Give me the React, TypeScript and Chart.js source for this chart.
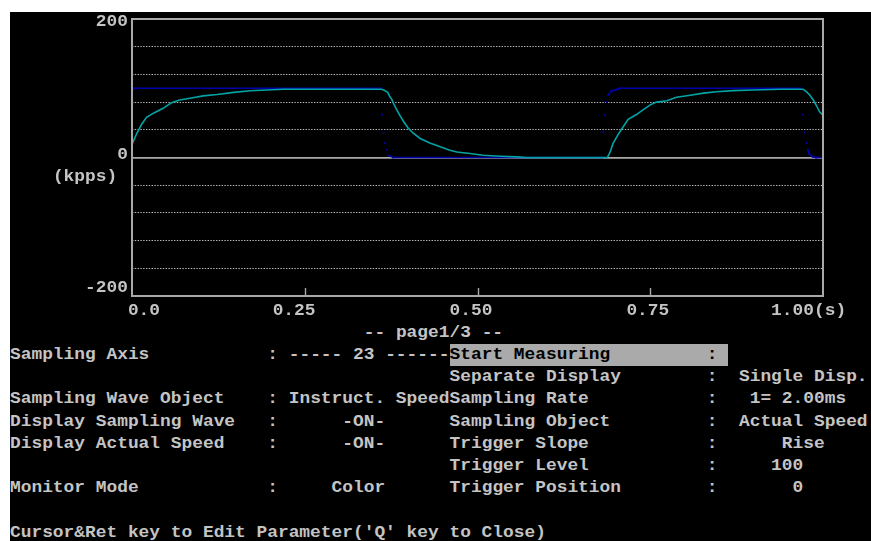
import React, { useEffect, useRef } from "react";
import { Chart, registerables } from "chart.js";

Chart.register(...registerables);

// ---- data ----
const instructTime = [0, 0.004, 0.36, 0.362, 0.364, 0.366, 0.369, 0.372, 0.378, 0.68, 0.682, 0.684, 0.687, 0.689, 0.694, 0.701, 0.706, 0.967, 0.971, 0.973, 0.976, 0.978, 0.98, 0.985, 0.99, 1.0];
const instructSpeed = [96, 100, 100, 62, 36, 21, 11, 3, 0, 0, 37, 61, 80, 90, 96, 98, 100, 100, 62, 36, 21, 11, 5, 1, 0, 0];

const actualTime = [0, 0.007, 0.014, 0.021, 0.031, 0.045, 0.057, 0.069, 0.086, 0.103, 0.123, 0.147, 0.171, 0.195, 0.219, 0.26, 0.3, 0.33, 0.361, 0.365, 0.37, 0.373, 0.376, 0.378, 0.383, 0.388, 0.393, 0.4, 0.407, 0.417, 0.431, 0.446, 0.46, 0.47, 0.489, 0.508, 0.533, 0.557, 0.571, 0.688, 0.692, 0.696, 0.704, 0.708, 0.718, 0.73, 0.74, 0.75, 0.759, 0.774, 0.788, 0.808, 0.827, 0.846, 0.87, 0.899, 0.938, 0.971, 0.976, 0.981, 0.986, 0.991, 0.995, 1.0];
const actualSpeed = [19, 35, 48, 58, 64, 71, 79, 83, 86, 89, 91, 94, 96.5, 97.5, 98.5, 98.5, 98.5, 98.5, 98.5, 97, 94, 88, 84, 79, 69, 60, 52, 42, 35, 27.5, 21, 15.4, 10.6, 8, 5.8, 3.3, 1.9, 0.9, 0, 0, 8, 20, 34, 40, 55, 62, 69, 76, 80, 82, 87, 90, 93, 95, 96.5, 97.5, 98.5, 98.5, 95, 90, 83, 74, 66, 61];

const yMin = -200;
const yMax = 200;
const yGridStep = 40;
const yTickLabels = ["200", "0", "-200"];
const yUnitLabel = "(kpps)";
const xMin = 0;
const xMax = 1;
const xTickValues = [0, 0.25, 0.5, 0.75, 1.0];
const xTickLabels = ["0.0", "0.25", "0.50", "0.75", "1.00(s)"];

// ---- screen text (80-column text grid) ----
type Cell = { row: number; col: number; text: string; hl?: boolean };
const screenText: Cell[] = [
  { row: 14, col: 33, text: "-- page1/3 --" },
  { row: 15, col: 0, text: "Sampling Axis" },
  { row: 15, col: 24, text: ": ----- 23 ------" },
  { row: 15, col: 41, text: "Start Measuring         : ", hl: true },
  { row: 16, col: 41, text: "Separate Display" },
  { row: 16, col: 65, text: ":" },
  { row: 16, col: 68, text: "Single Disp." },
  { row: 17, col: 0, text: "Sampling Wave Object" },
  { row: 17, col: 24, text: ": Instruct. Speed" },
  { row: 17, col: 41, text: "Sampling Rate" },
  { row: 17, col: 65, text: ":" },
  { row: 17, col: 69, text: "1= 2.00ms" },
  { row: 18, col: 0, text: "Display Sampling Wave" },
  { row: 18, col: 24, text: ":" },
  { row: 18, col: 31, text: "-ON-" },
  { row: 18, col: 41, text: "Sampling Object" },
  { row: 18, col: 65, text: ":" },
  { row: 18, col: 68, text: "Actual Speed" },
  { row: 19, col: 0, text: "Display Actual Speed" },
  { row: 19, col: 24, text: ":" },
  { row: 19, col: 31, text: "-ON-" },
  { row: 19, col: 41, text: "Trigger Slope" },
  { row: 19, col: 65, text: ":" },
  { row: 19, col: 72, text: "Rise" },
  { row: 20, col: 41, text: "Trigger Level" },
  { row: 20, col: 65, text: ":" },
  { row: 20, col: 71, text: "100" },
  { row: 21, col: 0, text: "Monitor Mode" },
  { row: 21, col: 24, text: ":" },
  { row: 21, col: 30, text: "Color" },
  { row: 21, col: 41, text: "Trigger Position" },
  { row: 21, col: 65, text: ":" },
  { row: 21, col: 73, text: "0" },
  { row: 23, col: 0, text: "Cursor&Ret key to Edit Parameter('Q' key to Close)" },
];
const yLabelCells = [
  { row: 0, col: 8 },
  { row: 6, col: 10 },
  { row: 12, col: 7 },
];
const yUnitCell = { row: 7, col: 4 };
const xLabelRow = 13;
const xLabelCols = [11, 24.5, 41, 57.5, 71];

// grid geometry
const X0 = 10;
const CW = 10.72;
const Y0 = 11;
const RH = 22.2;
const FG = "#c4c4c4";
const BLUE = "#0000aa";
const CYAN = "#00a4a4";

const framePlugin = {
  id: "dosFrame",
  afterDatasetsDraw(chart: any) {
    const { ctx, chartArea, scales } = chart;
    const { left, top, right, bottom } = chartArea;
    ctx.save();
    ctx.strokeStyle = "#a8a8a8";
    ctx.lineWidth = 2;
    ctx.strokeRect(left, top, right - left, bottom - top);
    ctx.lineWidth = 1.4;
    for (const v of xTickValues.slice(1, -1)) {
      const px = Math.round(scales.x.getPixelForValue(v)) + 0.5;
      ctx.beginPath();
      ctx.moveTo(px, bottom);
      ctx.lineTo(px, bottom - 8);
      ctx.stroke();
    }
    ctx.restore();
  },
};

function TextCell({ row, col, text, hl }: Cell) {
  return (
    <div
      style={{
        position: "absolute",
        left: X0 + col * CW,
        top: Y0 + row * RH,
        height: RH,
        width: hl ? text.length * CW : undefined,
        background: hl ? "#aaaaaa" : undefined,
        color: hl ? "#000" : FG,
        whiteSpace: "pre",
        overflow: "visible",
      }}
    >
      <div
        style={{
          fontFamily: "'Liberation Mono', 'DejaVu Sans Mono', monospace",
          fontWeight: "bold",
          fontSize: CW / 0.6 + "px",
          lineHeight: RH + "px",
          transform: "translateY(0.5px) scaleY(0.93)",
          transformOrigin: "top left",
        }}
      >
        {text}
      </div>
    </div>
  );
}

export default function App() {
  const canvasRef = useRef<HTMLCanvasElement | null>(null);

  useEffect(() => {
    if (!canvasRef.current) return;
    const instruct = instructTime.map((t, i) => ({ x: t, y: instructSpeed[i] }));
    const actual = actualTime.map((t, i) => ({ x: t, y: actualSpeed[i] }));
    const chart = new Chart(canvasRef.current, {
      type: "line",
      data: {
        datasets: [
          {
            label: "Actual Speed",
            data: actual,
            borderColor: CYAN,
            borderWidth: 1.6,
            pointRadius: 0,
            tension: 0,
          },
          {
            label: "Instruct. Speed",
            data: instruct,
            borderColor: BLUE,
            borderWidth: 1.7,
            pointRadius: 1.3,
            pointStyle: "rect",
            pointBorderWidth: 0,
            pointBackgroundColor: BLUE,
            tension: 0,
            segment: {
              borderColor: (c: any) =>
                Math.abs(c.p1.y - c.p0.y) > 4.5 ? "rgba(0,0,0,0)" : undefined,
            },
          },
        ],
      },
      options: {
        animation: false,
        responsive: false,
        maintainAspectRatio: false,
        layout: { padding: 10 },
        plugins: { legend: { display: false }, tooltip: { enabled: false } },
        scales: {
          x: { type: "linear", min: xMin, max: xMax, display: false },
          y: {
            type: "linear",
            min: yMin,
            max: yMax,
            ticks: { display: false, stepSize: yGridStep },
            grid: {
              drawTicks: false,
              color: (c: any) =>
                c.tick && c.tick.value === 0
                  ? "#a8a8a8"
                  : c.tick && Math.abs(c.tick.value) === 200
                  ? "rgba(0,0,0,0)"
                  : "#bdbdbd",
              lineWidth: (c: any) => (c.tick && c.tick.value === 0 ? 1.8 : 1),
            },
            border: {
              display: false,
              dash: (c: any) => (c.tick && c.tick.value !== 0 ? [1.4, 1.4] : []),
            },
          },
        },
      },
      plugins: [framePlugin],
    } as any);
    return () => chart.destroy();
  }, []);

  return (
    <div
      style={{
        position: "absolute",
        left: 0,
        top: 0,
        width: 871,
        height: 541,
        background: "#fff",
        overflow: "hidden",
      }}
    >
      <div style={{ position: "absolute", left: 10, top: 12, right: 0, bottom: 0, background: "#000" }} />
      <canvas
        ref={canvasRef}
        width={711}
        height={297}
        style={{ position: "absolute", left: 122, top: 9, width: 711, height: 297 }}
      />
      {yLabelCells.map((c, i) => (
        <TextCell key={"y" + i} row={c.row} col={c.col} text={yTickLabels[i]} />
      ))}
      <TextCell row={yUnitCell.row} col={yUnitCell.col} text={yUnitLabel} />
      {xTickLabels.map((t, i) => (
        <TextCell key={"x" + i} row={xLabelRow} col={xLabelCols[i]} text={t} />
      ))}
      {screenText.map((c, i) => (
        <TextCell key={i} {...c} />
      ))}
    </div>
  );
}
